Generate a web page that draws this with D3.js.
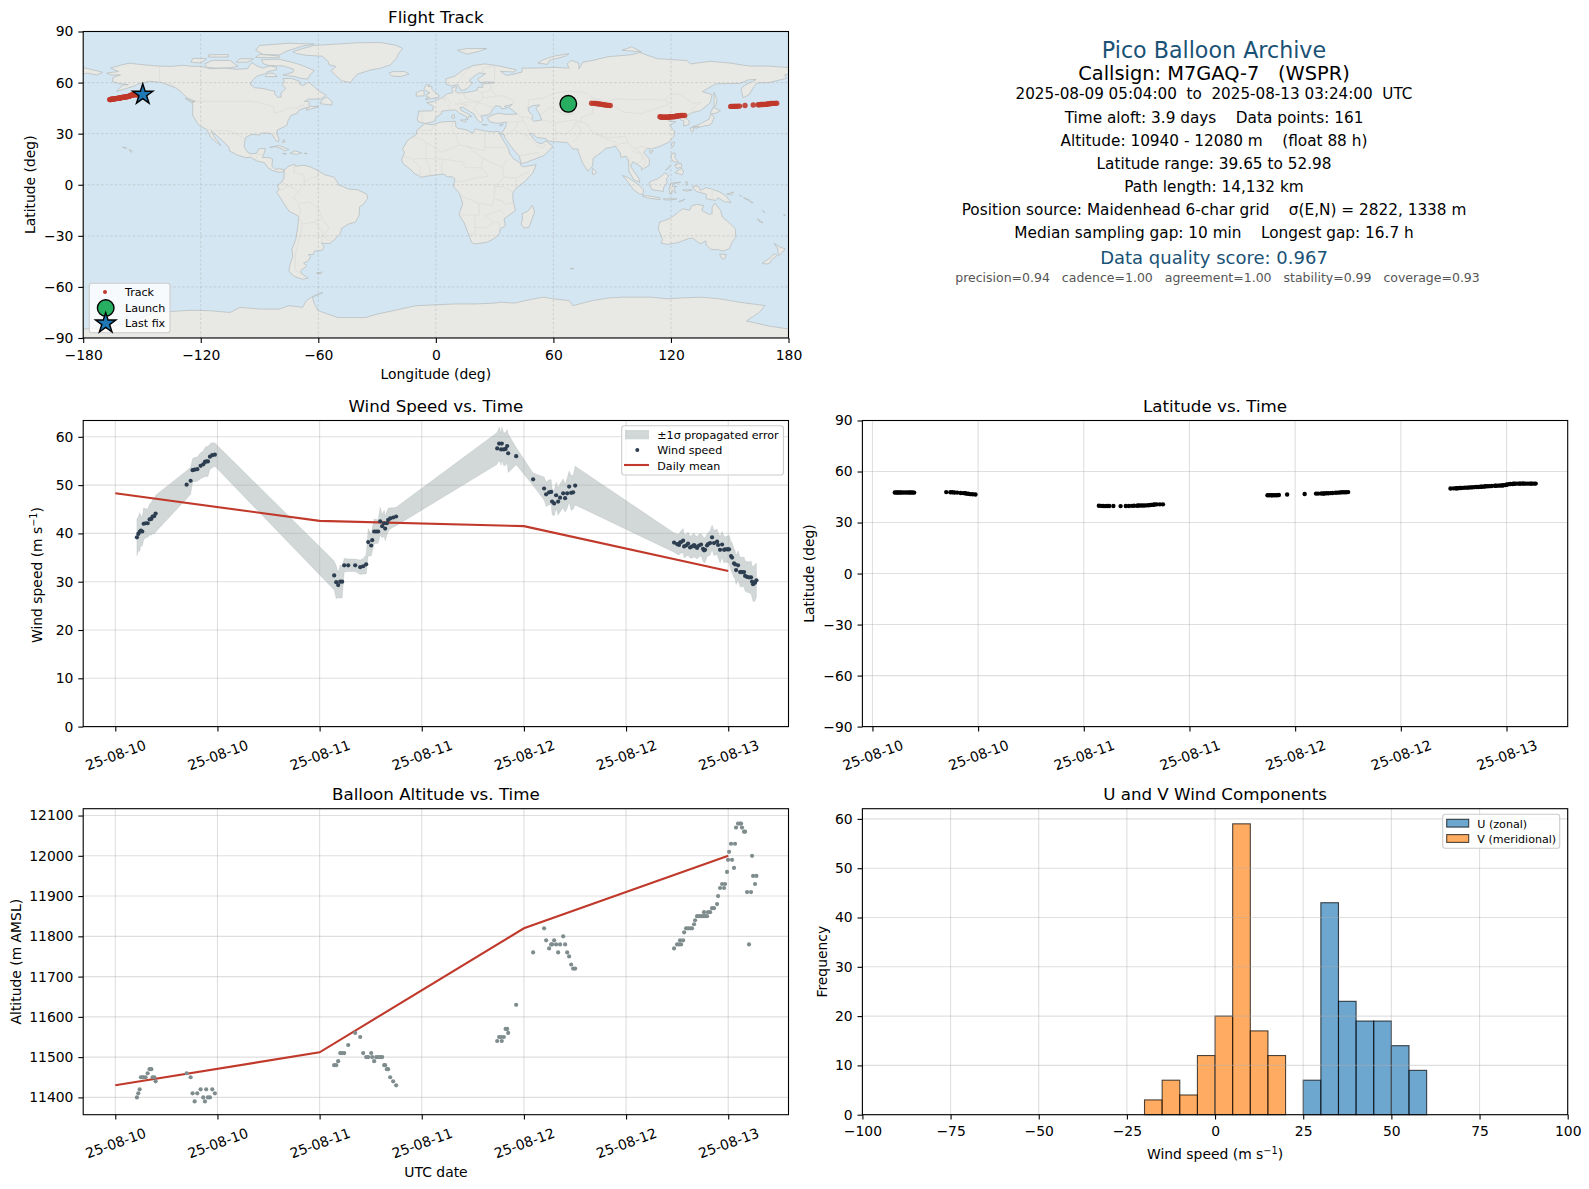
<!DOCTYPE html>
<html>
<head>
<meta charset="utf-8">
<script src="https://cdnjs.cloudflare.com/ajax/libs/d3/7.8.5/d3.min.js"></script>
<style>
  html, body { margin: 0; padding: 0; background: #fff; }
  svg text { font-family: "DejaVu Sans", sans-serif; white-space: pre; }
</style>
</head>
<body>
<div id="chart"></div>
<script>
// ---------- flight data (hours counted from 25-08-10 00:00 UTC) ----------
const hours = [
  2.54,2.70,2.86,3.01,3.17,3.33,3.56,3.80,4.03,4.23,4.38,4.58,4.74,
  8.38,8.85,9.08,9.32,9.63,10.02,10.33,10.53,10.68,10.88,11.12,11.39,11.70,
  25.71,25.95,26.18,26.42,26.65,26.89,27.36,28.18,28.77,29.12,29.47,29.71,30.06,30.18,30.41,30.65,30.88,31.12,31.35,31.59,31.70,31.90,32.05,32.29,32.64,32.99,
  44.86,45.09,45.32,45.40,45.64,45.85,46.03,46.15,47.09,
  49.08,
  50.37,50.61,50.96,51.20,51.31,51.55,51.78,52.02,52.25,52.61,52.84,53.08,53.31,53.55,53.78,54.02,
  65.64,65.99,66.22,66.34,66.46,66.70,66.82,67.05,67.28,67.52,
  67.75,67.99,68.11,68.34,68.57,68.81,69.04,69.16,69.28,69.51,
  69.63,69.87,70.10,70.33,70.69,70.81,71.04,71.28,71.51,71.63,
  71.86,71.98,72.10,72.33,72.45,72.68,72.80,72.92,73.15,73.39,
  73.51,73.62,73.86,73.98,74.21,74.44,74.68,74.80,74.92,75.15,75.31
]
const windSpeed = [
  39.2,39.9,40.3,40.6,40.4,42.0,42.1,42.1,42.9,43.0,43.5,43.6,44.1,
  50.1,50.9,53.1,53.2,53.3,54.0,54.3,54.8,54.9,54.9,55.9,56.2,56.3,
  31.3,29.9,29.3,30.0,30.0,33.4,33.4,33.4,33.0,33.2,33.6,38.2,37.5,38.6,40.4,40.4,40.4,42.5,41.5,42.1,41.0,42.1,42.8,43.1,43.3,43.5,
  57.6,58.6,57.4,58.6,57.4,57.5,58.1,56.6,56.0,
  51.2,
  49.3,48.1,48.5,48.6,46.6,46.2,47.9,46.6,47.4,48.3,47.3,48.3,49.7,48.4,48.5,49.9,
  38.1,37.8,37.6,38.1,38.2,38.5,37.3,37.5,37.9,37.1,
  37.3,37.6,37.3,37.0,37.5,37.7,36.8,36.5,36.6,37.5,
  37.8,38.0,39.2,38.0,38.3,37.6,36.6,37.7,36.6,36.7,
  36.7,36.7,36.7,35.3,35.0,33.8,33.6,32.4,33.4,32.0,
  32.0,32.0,32.0,31.2,31.0,30.9,30.9,30.0,29.5,29.8,30.3
]
const windSigma = [
  3.8,3.5,4.0,3.1,3.0,3.3,3.0,2.9,3.2,3.4,3.5,3.7,3.8,
  2.9,2.8,2.4,2.5,2.5,2.7,2.7,3.0,3.1,3.1,2.6,2.6,2.4,
  3.0,3.4,2.6,3.4,3.3,1.4,1.3,1.3,1.5,1.6,2.0,2.8,2.2,2.4,2.6,2.5,2.4,2.9,2.4,2.7,2.5,2.5,2.4,2.2,2.0,1.9,
  3.3,3.4,3.3,3.4,3.4,3.4,3.4,4.0,1.8,
  1.3,
  2.4,2.5,2.6,2.5,2.7,2.6,2.7,2.8,2.9,3.0,2.9,3.1,3.2,3.6,3.5,4.0,
  2.0,2.1,2.1,2.2,2.3,2.5,2.4,2.3,2.4,2.2,
  2.4,2.5,2.3,2.3,2.4,2.3,2.5,2.6,2.5,2.4,
  2.4,2.5,2.5,2.6,2.6,2.6,2.7,2.7,2.7,2.6,
  2.7,2.8,2.9,3.0,3.1,3.0,2.9,3.0,3.0,3.0,
  3.1,3.0,3.1,3.1,3.2,3.2,3.4,3.3,3.6,3.8,3.5
]
const latitude = [
  47.7,47.7,47.7,47.7,47.7,47.7,47.7,47.7,47.7,47.7,47.7,47.7,47.6,
  47.9,47.8,47.8,47.7,47.6,47.4,47.3,47.2,47.0,46.9,46.7,46.6,46.5,
  39.9,39.8,39.7,39.65,39.7,39.7,39.7,39.65,39.7,39.7,39.8,39.9,39.9,40.0,40.0,40.0,40.0,40.1,40.2,40.3,40.4,40.5,40.6,40.7,40.7,40.7,
  46.0,46.0,46.0,46.0,46.0,46.0,46.1,46.2,46.5,
  46.8,
  47.0,47.0,47.1,47.1,47.1,47.2,47.2,47.3,47.4,47.5,47.6,47.7,47.8,47.8,47.8,47.9,
  50.0,50.1,50.1,50.2,50.2,50.3,50.3,50.4,50.5,50.5,
  50.6,50.7,50.7,50.8,50.9,50.9,51.0,51.1,51.1,51.2,
  51.3,51.3,51.4,51.5,51.6,51.6,51.7,51.8,51.8,51.9,
  52.0,52.2,52.4,52.6,52.7,52.7,52.8,52.8,52.9,52.9,
  52.9,52.9,52.98,52.9,52.9,52.9,52.9,52.9,52.9,52.9,52.9
]
const longitude = [
  67.6,67.9,68.1,68.4,68.6,68.8,69.0,69.2,69.5,69.7,69.9,70.2,70.5,
  79.5,80.6,81.2,81.9,82.6,83.4,84.2,85.0,85.7,86.5,87.3,88.2,89.0,
  114.4,114.9,115.4,115.9,116.4,116.9,117.3,117.8,118.2,118.7,119.2,119.6,120.0,120.3,120.8,121.2,121.6,122.1,122.5,123.0,123.5,124.0,124.6,125.2,126.0,127.0,
  150.5,151.2,151.9,152.4,152.7,153.0,154.0,155.0,157.8,
  162.0,
  164.5,165.1,165.7,166.3,166.9,167.5,168.1,168.7,169.3,169.9,170.5,171.1,171.7,172.4,173.2,174.0,
  -166.5,-166.1,-165.8,-165.6,-165.4,-165.0,-164.8,-164.4,-164.0,-163.6,
  -163.2,-162.8,-162.6,-162.2,-161.8,-161.5,-161.1,-160.9,-160.7,-160.3,
  -160.1,-159.7,-159.3,-158.9,-158.4,-158.2,-157.8,-157.4,-157.0,-156.8,
  -156.4,-156.2,-155.9,-155.5,-155.3,-154.9,-154.7,-154.4,-154.0,-153.6,
  -153.4,-153.1,-152.7,-152.5,-152.1,-151.7,-151.2,-151.0,-150.7,-150.1,-149.6
]
const altitude = [
  11400,11410,11420,11450,11450,11450,11450,11460,11470,11470,11450,11450,11440,
  11460,11450,11410,11390,11410,11420,11400,11390,11420,11400,11400,11420,11410,
  11480,11480,11490,11510,11510,11510,11530,11560,11550,11510,11500,11500,11510,11500,11490,11500,11500,11500,11500,11480,11480,11470,11470,11450,11440,11430,
  11540,11550,11550,11540,11550,11570,11570,11560,11630,
  11760,
  11820,11790,11770,11780,11780,11790,11780,11760,11780,11800,11780,11760,11750,11730,11720,11720,
  11770,11780,11780,11790,11780,11790,11810,11820,11820,11820,
  11820,11830,11840,11850,11850,11850,11850,11860,11850,11850,
  11860,11860,11870,11870,11880,11900,11920,11930,11920,11930,
  11960,11990,12010,12030,11990,11970,12030,12070,12080,12080,
  12080,12070,12060,12060,11910,11780,11910,12000,11950,11930,11950
]
// daily means
const meanHours = [0, 24, 48, 72]
const meanWind = [48.3, 42.6, 41.5, 32.2]
const meanAlt = [11430, 11512, 11820, 12000]
// launch and last fix [lon, lat]
const launchFix = [67.6, 47.5]
const lastFix = [-149.6, 53]
// histograms
const binStartV = [-20, -15, -10, -5, 0, 5, 10, 15]
const countsV = [3, 7, 4, 12, 20, 59, 17, 12]
const binStartU = [25, 30, 35, 40, 45, 50, 55]
const countsU = [7, 43, 23, 19, 19, 14, 9]
const binWidth = 5
// ticks
const timeTicks = ['2025-08-10T00:00Z','2025-08-10T12:00Z','2025-08-11T00:00Z','2025-08-11T12:00Z','2025-08-12T00:00Z','2025-08-12T12:00Z','2025-08-13T00:00Z']
const lonTicks = [-180, -120, -60, 0, 60, 120, 180]
const latTicks = [-90, -60, -30, 0, 30, 60, 90]
const windTicks = [0, 10, 20, 30, 40, 50, 60]
const altTicks = [11400, 11500, 11600, 11700, 11800, 11900, 12000, 12100]
const histXTicks = [-100, -75, -50, -25, 0, 25, 50, 75, 100]
const histYTicks = [0, 10, 20, 30, 40, 50, 60]
// text block
const infoLines = [
  'Pico Balloon Archive',
  'Callsign: M7GAQ-7   (WSPR)',
  '2025-08-09 05:04:00  to  2025-08-13 03:24:00  UTC',
  'Time aloft: 3.9 days    Data points: 161',
  'Altitude: 10940 - 12080 m    (float 88 h)',
  'Latitude range: 39.65 to 52.98',
  'Path length: 14,132 km',
  'Position source: Maidenhead 6-char grid    σ(E,N) = 2822, 1338 m',
  'Median sampling gap: 10 min    Longest gap: 16.7 h',
  'Data quality score: 0.967',
  'precision=0.94   cadence=1.00   agreement=1.00   stability=0.99   coverage=0.93'
]

// ---------- coastlines [lon, lat], traced by eye ----------
const landRings = [
  // North America
  [[-156.6,71.4],[-152,70.8],[-145,70],[-141,69.7],[-135,69.5],[-129,70.2],[-125,69.6],[-120,69.5],[-115,68.2],[-108,68.6],[-102,67.8],[-96,68.2],[-94,71.8],[-91,69.5],[-88,68.5],[-85,69.8],[-81.3,69.1],[-81.3,67.6],[-86,66.4],[-87,65.2],[-91,64],[-93,62],[-94.5,60],[-94.7,58.9],[-92.5,57],[-88,56.5],[-84,55.3],[-82.3,55.1],[-82.2,53],[-80.5,51.3],[-79,51.5],[-79,54],[-76.6,56.5],[-78.5,58.8],[-77.3,60],[-78,62.4],[-73.8,62.4],[-70,61],[-69.5,59],[-67.5,58.3],[-65,60.3],[-62,57.5],[-60,55.3],[-56,52.5],[-59,50.3],[-65,50.3],[-67,49],[-65,49],[-64.5,48],[-65,47],[-64.5,46.2],[-61.5,45.9],[-60,46.5],[-60,45.8],[-63.5,44.6],[-66,43.6],[-66,44.8],[-64.5,45.5],[-67,45],[-70,43.7],[-70.7,42],[-74,40.6],[-75.5,37.5],[-76,35],[-78,33.8],[-81,32],[-81.3,30],[-80,26.8],[-80.4,25.2],[-81.7,26],[-82.7,28],[-84,30],[-86,30.4],[-89,30.3],[-90,29.2],[-94,29.6],[-97.2,27.7],[-97.7,24],[-97.8,22.3],[-96,19],[-94.5,18.2],[-91.5,18.5],[-90.5,21],[-87,21.4],[-87.7,18.3],[-88.5,16],[-85,15.9],[-83.3,15],[-83.7,11],[-82,9],[-79.7,9.5],[-77.4,8.7],[-78,7.5],[-80.3,7.4],[-83,8.2],[-85.7,10],[-87.5,13],[-91.5,14],[-94.5,16.2],[-97,15.9],[-101.5,17.5],[-105.5,20],[-105.5,22],[-109,26],[-112.5,29.5],[-114.7,31.7],[-112.7,27.5],[-109.7,23],[-112,24.8],[-115,28],[-117,32.5],[-120.5,34.5],[-122.5,37.5],[-124.2,41],[-124,46],[-124.5,48.4],[-122.8,49],[-127,51],[-130,54.5],[-133,57],[-137,58.7],[-140,60],[-146,60.8],[-149,60],[-152,59.2],[-154,58],[-158,56.5],[-163,54.8],[-160,58.5],[-157,58.8],[-162,59.5],[-165,60.5],[-164.8,63],[-161,64.5],[-166,64.5],[-168,65.6],[-162,66.5],[-166,68.5],[-160,70.5]],
  // South America
  [[-77.4,8.7],[-75,11],[-72,12],[-71.5,10.8],[-68,11.5],[-64,10.5],[-60.5,8.5],[-57,6],[-52,4.5],[-50,1],[-50,0],[-48,-0.8],[-44.5,-2.5],[-40,-2.9],[-35.2,-5.5],[-34.8,-8],[-37,-11.5],[-39,-13],[-39,-17.5],[-41,-22],[-44.5,-23],[-48,-25.5],[-48.7,-28.5],[-52,-32.5],[-54,-34.5],[-57,-34.5],[-58.4,-34],[-57,-36.5],[-58,-38.5],[-62,-39],[-62.5,-41],[-65,-41],[-64,-42.5],[-65.5,-45],[-67.5,-46],[-65.8,-47.5],[-69,-50.5],[-68.3,-52.5],[-65.2,-54.8],[-68,-55.5],[-72,-54],[-75,-51],[-74.5,-47],[-73,-42],[-73.5,-38],[-71.5,-32],[-70.5,-25],[-70,-18.5],[-75,-15.5],[-77,-12],[-79.7,-7],[-81.3,-4.5],[-80,-2.5],[-81,-0.5],[-78.7,1.5],[-77.5,4],[-77.4,7]],
  // Greenland
  [[-73,78.2],[-68,80],[-62,81.8],[-52,82.5],[-40,83.4],[-28,83.5],[-20,81.8],[-17,80],[-19,77],[-20,74.5],[-22,72],[-23,70.5],[-28,68.5],[-33,67.5],[-40,65],[-42,62.5],[-43.5,60],[-48,61],[-51,64],[-53.5,67],[-51,69.5],[-54.5,70.5],[-55,72.5],[-58,75.5],[-66,76],[-71,77]],
  // Canadian Arctic
  [[-80,73.7],[-72,71.5],[-68,70],[-62,67],[-64,65],[-65.5,62],[-69,62.5],[-72,63.5],[-78,64.5],[-73,66],[-72.5,67.8],[-78,69.8],[-85,70],[-88,71],[-89,73.5]],
  [[-117,69],[-113,68.5],[-105,68.7],[-101,69.5],[-105,73],[-114,73],[-118,71]],
  [[-125,72],[-120,71.5],[-117,74],[-124,74.3]],
  [[-88,76.5],[-80,76.2],[-76,78.5],[-68,81.5],[-62,82.6],[-75,83.1],[-90,81.8],[-92,79]],
  [[-92,74.8],[-80,74.6],[-80,75.6],[-90,76.6]],
  [[-116,75],[-106,75],[-106,76.5],[-116,76.3]],
  [[-102,72],[-96,72],[-93,74],[-100,74]],
  [[-87,63.5],[-81,63.5],[-83,65.5],[-86,65.5]],
  [[-59,47.6],[-53,46.8],[-53,49],[-55.7,51.5],[-58,50]],
  [[-128,50.8],[-123.5,48.4],[-125.5,48.8]],
  // Caribbean, Pacific and Atlantic islands
  [[-84.8,21.9],[-80,23],[-75,20.7],[-77.5,19.9],[-78.5,21],[-82,22.5]],
  [[-74.4,18.5],[-72,20],[-68.5,18.7],[-71,17.8]],
  [[-78.3,18.4],[-76.3,18.2],[-77,17.8]],
  [[-67.2,18.5],[-65.7,18.4],[-66,18]],
  [[-78.5,25],[-77.5,26.7],[-77,25]],
  [[-156.5,20.8],[-155,19.8],[-155.7,19]],
  [[-160,22.1],[-157.8,21.6],[-158.2,21.3]],
  [[-61,-51.8],[-58,-51.3],[-59,-52.3]],
  [[-24,65.5],[-22,66.4],[-16,66.5],[-13.7,65],[-18,63.5],[-22.5,63.9]],
  // Eurasia
  [[-5.6,36],[-9,37],[-9.5,38.8],[-8.8,42],[-9,43.2],[-1.8,43.4],[-1.2,46],[-4.7,48.3],[-1.5,48.7],[1.5,50.2],[3.5,51.4],[6,53.5],[8.5,54],[8.2,57],[10.6,57.7],[10,55],[11,54],[14,54],[18.5,54.7],[21,55.5],[21.5,57.3],[24,57.2],[23.5,59.2],[28,59.6],[30,60],[26,60.4],[22.5,60],[21.3,62],[25.3,65.2],[22,65.7],[17.5,62],[17.2,60.7],[18.8,59.8],[16.5,57],[14.3,55.5],[12.8,55.5],[11,58.9],[8,58],[5.5,59],[5,62],[10,64],[14,67.5],[19,70],[25,71],[31,70],[41,67.5],[40,66.2],[35,66.5],[33,66.6],[36,64.2],[40,65],[44,66.2],[44,68.5],[54,68.6],[60,69],[68,68.5],[67,71],[69,73],[73,71.5],[73,68],[75,72],[80,73],[88,75.2],[100,76.4],[104,77.7],[113,74],[128,73],[130,71],[140,72.5],[150,71.5],[160,69.7],[170,69.7],[180,68.8],[180,65],[178,64.5],[179,62.5],[170,60],[164,59.8],[162,57],[160,53],[156.8,51],[155.8,56],[157,58],[163.5,61.8],[160,61.7],[155,59.5],[143,59.3],[136,54.7],[141,53],[140,48],[135,43.5],[130.7,42.3],[127.5,39.8],[129.4,37],[129,35.2],[126.5,34.5],[126.6,37.5],[125,38],[124.5,40],[121.5,39],[122,40.5],[118,39],[119,37.3],[122.5,37],[119.3,35],[122,31],[121.5,28.5],[119,25],[114,22.4],[110,21],[108,21.5],[106,19],[109,15],[109,11.5],[105,8.7],[105,10.3],[102.5,12.2],[100.5,13.5],[99.5,10.5],[103.5,4],[104.2,1.4],[101,3],[98.5,8],[98.3,14],[97,16.7],[94.5,16],[94,19],[91.5,22.7],[89,21.8],[87,21.5],[85,19.5],[80.3,15.5],[80,11],[77.5,8],[74.8,13],[72.8,19],[72.5,21],[70,21],[67,24.8],[61.5,25.2],[57,25.7],[56.4,27],[51.5,27.8],[49,30.3],[48,30],[50,26.7],[51.5,25],[54,24],[56.3,25.8],[59.8,22.4],[55,17],[52,15.7],[45,12.7],[43.4,12.7],[42.7,16.5],[39,21.5],[35,28],[34.9,29.5],[32.6,29.9],[34.3,31.3],[35.8,34.5],[36,36.8],[32,36.1],[30,36.3],[27.3,37],[26.3,39.5],[29,41],[32,42],[36,41.3],[41.5,41.5],[39,44],[37,45.4],[39,47.2],[35,46],[36.5,45.2],[33.5,44.5],[33,46],[30.5,46.4],[28.5,43.5],[28,42],[26.2,40.8],[23,40.3],[24,38],[22.8,36.5],[21,38.3],[19.5,41.5],[13.8,45.5],[12.3,45.3],[13,43.5],[16,41.9],[18.5,40],[16.8,40.3],[16,38],[15.7,40],[12,42],[10.2,43.9],[7.5,43.8],[3,43.2],[3,41.8],[0,39.5],[-0.7,37.7],[-2,36.8]],
  [[-180,68.8],[-175,67.5],[-170,66],[-173,64.5],[-178,65.5],[-180,65]],
  // Africa
  [[-5.6,35.9],[-2,35.2],[3,36.9],[10,37.3],[10.2,34.3],[11,33.2],[15.3,32.3],[19,30.3],[20,32.8],[25,31.6],[29,31],[32.3,31.3],[32.6,29.9],[34,27],[35.6,24],[37.2,21],[37.5,18.6],[39.5,15.4],[43.2,12.5],[43.2,11.5],[44.5,10.5],[51.2,11.8],[49.5,7],[45.5,2],[41,-2],[39.2,-5],[39.5,-10],[40.7,-15],[36.5,-18.7],[34.8,-20],[35.5,-24],[32.8,-26],[32.5,-28.5],[30,-31.5],[26,-33.8],[20,-34.8],[18.3,-34],[16.5,-28.5],[14.5,-22.5],[11.8,-17.5],[13.7,-11],[12,-5],[9,-1],[9.7,3.5],[8.5,4.6],[5.5,4.7],[4.5,6.3],[1,5.9],[-4,5.2],[-7.5,4.4],[-11,6.7],[-13.5,9.5],[-16.7,12.4],[-17.5,14.7],[-16,19],[-17,21],[-14.5,26],[-10,29.5],[-9.7,32],[-6,35.5]],
  [[49.3,-12],[50.4,-16],[47.5,-25],[45,-25.5],[43.5,-23],[44.3,-20],[44,-17],[47,-15.5]],
  // European islands
  [[-5.5,50],[1.3,51.2],[1.7,52.7],[-0.3,54],[-2,56],[-2,57.6],[-4,57.7],[-3,58.6],[-5,58.6],[-6,56.5],[-4.9,55],[-3,54],[-4.5,53.3],[-5,51.7],[-3.2,51.3]],
  [[-6,52.2],[-6,54],[-6,55.2],[-8,55.2],[-10,54],[-10,52]],
  [[14,77.5],[11,79],[16,80],[26,80],[21,78],[16,76.7]],
  [[52,71.5],[55,73.5],[60,75.5],[68,77],[66,75.5],[58,73],[57,70.7]],
  [[95,79],[105,78],[100,81]],
  [[8.3,39],[9.7,39.2],[9.3,41.2],[8.2,40.8]],
  [[12.5,38],[15.5,38.2],[15,36.7]],
  [[23.5,35.4],[26.3,35.2],[24.7,34.9]],
  [[32.4,35],[34.5,35.6],[33.7,34.7]],
  // East and South-East Asia
  [[142,54.3],[143.5,50],[143,46.5],[142,46],[142,50]],
  [[130.9,34],[135,35.7],[137,37],[139.5,38.5],[140,40.5],[141,41.4],[142,39.5],[140.8,36],[139.5,35],[136.8,34.5],[135,33.8],[132,34]],
  [[140,41.5],[141.5,45.5],[145.3,43.5],[143,42]],
  [[130,33.5],[132,33.5],[131,31],[130,32]],
  [[132.5,34],[134.5,34.2],[133,33]],
  [[121,25],[122,25],[120.9,22],[120.1,23.3]],
  [[109,20],[111,19.7],[109.5,18.2]],
  [[120.5,18.5],[122.2,18.5],[122,16],[124,13],[121,13.8],[120,16]],
  [[122,7],[125.5,9.8],[126.5,7.5],[125.5,5.7],[124,6.5]],
  [[122,11.8],[125.3,12.5],[125.5,10.5],[123,9.5]],
  [[117.2,8.4],[119.5,11.3],[119.3,10.3]],
  [[109,1.5],[111.5,2.8],[113,3.2],[115.5,5.5],[117,7],[119,5.2],[117.7,3.5],[118,1],[116.5,-1],[116,-4],[114,-3.5],[110.5,-3],[109,0]],
  [[95.3,5.5],[98,4.3],[103.5,0],[106,-3],[105.8,-5.8],[104,-5.5],[101,-3],[98.5,1]],
  [[105.5,-6.5],[108.5,-6.5],[114.5,-7.7],[114.5,-8.7],[108,-7.8],[105.5,-6.8]],
  [[119.5,-5.5],[119,-2.5],[120,1],[125,1.5],[121,0.5],[120.5,-1],[123,-1],[121.5,-2],[122.5,-5],[120.5,-3],[120.4,-5.5]],
  [[116,-8.3],[119,-8.3],[123,-8.3],[120,-8.9],[117,-9]],
  [[124,-10],[127,-8.5],[125,-9.8]],
  [[127.5,2],[128.5,1.5],[128,-0.5]],
  [[126,-3],[130.8,-3],[128,-3.8]],
  [[80,9.7],[82,7.5],[81,6],[80,6.2],[79.8,8]],
  // Oceania
  [[131,-0.8],[134,-0.8],[135,-3.3],[138,-1.7],[141,-2.6],[145,-4.3],[148,-6.5],[150.7,-10.5],[147,-9.8],[144,-7.7],[143,-9.2],[138,-8.3],[138,-5.5],[133,-4],[132,-2.8]],
  [[148.5,-5.5],[152,-4.3],[151,-6]],
  [[155,-6],[156,-6.9],[155.5,-6.5]],
  [[157,-7.5],[160,-9],[159,-8.9]],
  [[160,-9.5],[162,-10.5],[161,-10.5]],
  [[166.7,-15],[167.5,-16],[168,-16.5]],
  [[164,-20],[167,-22.3],[165.5,-22]],
  [[177.5,-17.5],[178.5,-17.8],[178,-18.3]],
  [[114.2,-22],[113.5,-26],[115.7,-32],[115,-34.3],[118,-35],[123.5,-34],[129,-31.6],[131.2,-31.5],[135,-34.7],[137.8,-33],[138,-35.5],[140.5,-38],[144.5,-38.2],[146.5,-39],[150,-37.5],[151,-34],[153,-31],[153,-26],[149,-21.5],[146.3,-19],[145.3,-15],[142.5,-10.8],[141,-13],[141,-17],[139.2,-17.3],[135.7,-15],[136.8,-12.2],[133,-11.5],[130.5,-12.5],[129.5,-15],[126,-14],[122.3,-17.5],[119,-20]],
  [[144.8,-40.7],[148.2,-41],[147.5,-43.5],[146,-43.5]],
  [[172.7,-34.5],[175.5,-36.5],[178.3,-37.7],[177,-39.5],[175,-41.5],[174.5,-39.5],[174.7,-38],[173,-35]],
  [[172.7,-40.5],[174.2,-41.5],[171.5,-44],[170.5,-46],[168.5,-46.6],[166.5,-46],[170.5,-43]],
  [[68.7,-49.2],[70.5,-49],[69.5,-49.8]],
  // Antarctica
  [[-180,-84.7],[-170,-84],[-160,-82],[-150,-78],[-145,-75.5],[-135,-74.4],[-125,-73.7],[-115,-74],[-105,-75],[-100,-72],[-90,-73],[-80,-73],[-75,-71],[-68,-72],[-66,-68],[-62,-65],[-57.7,-63.3],[-60,-64.5],[-63,-66],[-62,-70],[-60,-74],[-50,-78],[-45,-78],[-36,-78],[-30,-76],[-20,-73.5],[-10,-71],[0,-70.5],[10,-70],[20,-70],[30,-69.5],[33,-69],[40,-69.5],[50,-67],[55,-66],[60,-67],[68,-68],[70,-71],[75,-69.5],[80,-68],[88,-66.5],[95,-66],[100,-66],[110,-66],[118,-67],[125,-66.5],[135,-66],[145,-67],[155,-69],[165,-70.5],[168,-71],[165,-75],[158.6,-80],[170,-83],[180,-84.7],[180,-90],[-180,-90]]
]
// inland seas painted in the ocean colour
const waterRings = [
  [[47,45],[49.5,46.5],[53,46.8],[51,44.8],[53,41.5],[54,38],[50,37.3],[49,38.5],[49.5,40.5],[47.5,43]]
]
// a few land borders, very faint on the map
const borderLines = [
  [[-123,49],[-95,49],[-89,48],[-83,46],[-82.5,42],[-79,43],[-75,45],[-71,45],[-67.5,47],[-67,45]],
  [[-141,69.7],[-141,60.3],[-135,59],[-130,55]],
  [[-117,32.5],[-108,31.5],[-106,31.7],[-101,29.5],[-97.2,26]],
  [[-92,14.5],[-91,17.8],[-89,17.8],[-88.5,16]],
  [[-72,12],[-72.5,7.5],[-67.5,6],[-67,1.5],[-70,-4],[-73,-7],[-70,-11],[-69,-16],[-69.5,-18]],
  [[-60.5,8.5],[-60,5],[-64,4],[-67,1.5]],
  [[-75,-0.5],[-78.7,1.5]],[[-75,-0.5],[-70,-4]],[[-80,-3.5],[-75,-0.5]],
  [[-70.5,-18.5],[-68,-23],[-70,-33],[-71.5,-40],[-72,-50],[-69,-52]],
  [[-69,-11],[-65,-10],[-60,-13.5],[-58,-20],[-62,-22],[-68,-23]],
  [[-58,-20],[-54.5,-25.5],[-57.5,-30],[-53.5,-33.5]],[[-62,-22],[-58,-27],[-58,-33]],
  [[-9,32],[-2,32],[-1,35]],[[-8.5,27.5],[-13,27.7]],[[-8.5,27.5],[3,19],[12,23.5],[10,30],[8,33],[8.5,37]],
  [[12,23.5],[25,20],[25,31.6]],[[25,22],[37,22]],[[16,23],[24,15.5],[23,10],[15,10],[13.5,13.5],[4,15],[3,11.5],[3,6.5]],
  [[-16.5,16.5],[-12,15],[-5,15.5],[4,15]],[[-5,25],[-5,15.5],[-3,10],[-3,5]],[[-12,15],[-8,10],[-8,4.5]],
  [[24,15.5],[34,10],[36,14.5]],[[34,10],[35,4.5],[41,4],[48,8]],[[35,4.5],[30,-1],[30,-5],[29,-12],[22,-11],[12,-6]],
  [[23,10],[27,5],[18,3.5],[14,2],[10,2]],[[41,4],[41,-2]],[[30,-1],[34,-1],[40,-4.5]],[[30,-8.5],[34,-9.5],[35,-11.5],[40,-10.5]],
  [[22,-11],[22,-18],[12,-17.5]],[[25,-18],[33,-15],[35,-17]],[[20,-18],[20,-29],[16.5,-28.5]],[[25,-18],[29.5,-22.3],[25,-25.5],[20,-25]],[[29.5,-22.3],[32,-22],[33,-26]],
  [[5.5,49.5],[2,51],[6,51],[7,49],[7.5,47.6],[6,46],[7.5,43.8]],[[-1.8,43.4],[3,42.4]],[[-9,42],[-7,41.8],[-7,37.2]],
  [[8.8,54.8],[14.2,54],[14.8,51],[18.8,49.5],[22.5,49],[24,51],[23.5,54],[21,55.5]],[[12,50.3],[13,48],[17,48.5],[22.5,48.2]],[[9.5,47.5],[13,47.5],[16.5,46.8],[13.8,45.5]],[[22.5,48.2],[29,45.3]],[[22.5,48.2],[19,45],[22.5,41],[26.2,41.5],[28,42]],
  [[24,51],[31,52],[34,52.3],[40,49.6],[39,47.2]],[[23.5,54],[28,56],[28,59.6]],[[31,52],[28,56]],[[29,41.5],[26.2,41.5]],
  [[18,69],[14,65],[12,61],[11,59]],[[24,68.5],[30,70]],[[24,68.5],[24,66]],[[30,70],[30,62],[28,60]],
  [[36,36.8],[42,37],[44.7,37.3],[44,39.5],[41.5,41.5]],[[42,37],[41,34],[39,32],[36.5,29.5]],[[48,30],[46,29],[40,32]],[[46,29],[52,22.5],[55,22],[56,24]],[[43,17],[52,19],[53,16.5]],
  [[44.7,37.3],[46,35],[48,30]],[[49,38.5],[47,39.5],[44,40]],[[61,36.5],[61,31],[61.5,25.2]],[[54,38],[61,36.5],[66,37.3],[71,38],[74.5,37]],[[61,31],[66,29.5],[70,33],[71,36],[74.5,37]],
  [[47,45],[47.5,50],[55,51],[61,54],[69,55],[77,54],[80,51],[87,49]],[[87,49],[92,50.5],[98,50],[107,50],[117,49.8],[120,53.3],[125,53],[131,48],[135,48.3],[131,45],[131,42.5]],
  [[87,49],[91,46],[96,42.7],[105,41.7],[112,44.7],[119,47],[117,49.8]],[[80,45],[80,42],[74,39.5],[74.5,37]],[[54,41.5],[58,45.5],[62,43.5],[66,41],[71,42]],[[80,45],[84,47],[87,49]],
  [[74.5,37],[78,35],[79,32],[81,30],[88,27.8],[92,28],[97,28.5],[98,25],[100,22],[102,21.5],[105,22.5],[108,21.5]],[[71,36],[74,33],[74,30],[70,25]],[[81,30],[88,26.5],[92,25],[92,22]],[[98,25],[94,24],[92,22]],
  [[97,17],[99,15],[99.5,10.5]],[[100,20],[105,18],[105.5,14.5],[102.5,12.2]],[[102,21.5],[105,18],[107,14.5],[106,10.5]],
  [[124.5,40],[128,41.5],[130.7,42.3]],[[126,38],[128.5,38.5]],
  [[141,-2.6],[141,-9.2]]
]

// ---------- layout ----------
const width = 1589, height = 1189
const FONT_TICK = 13.9, FONT_LABEL = 13.9, FONT_TITLE = 16.7, FONT_LEGEND = 11.1
const leftCol = [83.2, 788.5], rightCol = [862.4, 1567.7]
const row1 = [31.5, 338], row2 = [420.5, 726.6], row3 = [808.7, 1114.7]

const svg = d3.select('#chart').append('svg')
  .attr('width', width).attr('height', height)
  .style('display', 'block')

const t0 = Date.UTC(2025, 7, 10)
const toDate = h => new Date(t0 + h * 3600000)
const ids = d3.range(hours.length)

// shared grid + frame helpers
function drawGrid(g, xs, ys, x, y, xr, yr, dash) {
  const grid = g.append('g')
    .attr('stroke', dash ? '#999' : '#b0b0b0')
    .attr('stroke-opacity', dash ? 0.45 : 0.4)
    .attr('stroke-width', dash ? 0.7 : 1.1)
    .attr('stroke-dasharray', dash ? '2.5,2' : null)
  grid.selectAll('.gx').data(xs).join('line')
    .attr('x1', d => x(d)).attr('x2', d => x(d)).attr('y1', yr[0]).attr('y2', yr[1])
  grid.selectAll('.gy').data(ys).join('line')
    .attr('x1', xr[0]).attr('x2', xr[1]).attr('y1', d => y(d)).attr('y2', d => y(d))
}

function drawFrame(xr, yr) {
  svg.append('rect')
    .attr('x', xr[0]).attr('y', yr[0])
    .attr('width', xr[1] - xr[0]).attr('height', yr[1] - yr[0])
    .attr('fill', 'none').attr('stroke', '#000').attr('stroke-width', 1.1)
}

function styleAxis(g) {
  g.selectAll('text').attr('font-size', FONT_TICK).attr('fill', '#000')
  g.selectAll('line').attr('stroke', '#000').attr('stroke-width', 1.1)
}

const minus = d => String(d).replace('-', '−')

function drawLeftAxis(y, xLeft, ticks) {
  svg.append('g').attr('transform', `translate(${xLeft},0)`)
    .call(d3.axisLeft(y).tickValues(ticks).tickFormat(minus).tickSize(4.9).tickPadding(4.9).tickSizeOuter(0))
    .call(g => g.select('.domain').remove())
    .call(styleAxis)
}

function drawBottomAxis(x, yBottom, ticks, fmt) {
  svg.append('g').attr('transform', `translate(0,${yBottom})`)
    .call(d3.axisBottom(x).tickValues(ticks).tickFormat(fmt).tickSize(4.9).tickPadding(7).tickSizeOuter(0))
    .call(g => g.select('.domain').remove())
    .call(styleAxis)
}

function drawTimeAxis(x, yBottom) {
  svg.append('g').attr('transform', `translate(0,${yBottom})`)
    .call(d3.axisBottom(x).tickValues(timeTicks.map(s => new Date(s))).tickFormat(d3.utcFormat('%y-%m-%d')).tickSize(4.9).tickSizeOuter(0))
    .call(g => g.select('.domain').remove())
    .call(styleAxis)
    .call(g => g.selectAll('text')
      .attr('y', 0).attr('dy', '0.35em')
      .attr('transform', 'translate(0,28.5) rotate(-20)'))
}

function title(text, xr, yTop) {
  svg.append('text').attr('x', (xr[0] + xr[1]) / 2).attr('y', yTop - 8.3)
    .attr('text-anchor', 'middle').attr('font-size', FONT_TITLE).text(text)
}

function xLabel(text, cx, y) {
  svg.append('text').attr('x', cx).attr('y', y)
    .attr('text-anchor', 'middle').attr('font-size', FONT_LABEL).text(text)
}

function yLabel(text, x, cy) {
  svg.append('text').attr('text-anchor', 'middle').attr('font-size', FONT_LABEL)
    .attr('transform', `translate(${x},${cy}) rotate(-90)`).text(text)
}

// the "m s⁻¹" of the wind labels, with a real raised exponent
function addSup(t) {
  t.append('tspan').attr('dy', -5).attr('font-size', 9.7).text('−1')
  t.append('tspan').attr('dy', 5).text(')')
}

const frame = (x, y, w, h) => svg.append('rect').attr('x', x).attr('y', y).attr('width', w).attr('height', h)
  .attr('rx', 2.5).attr('fill', '#fff').attr('fill-opacity', 0.8)
  .attr('stroke', '#ccc').attr('stroke-width', 1.1)
const legendText = (x, y, s) => svg.append('text').attr('x', x).attr('y', y).attr('dy', '0.35em')
  .attr('font-size', FONT_LEGEND).text(s)

// ---------- 1. flight track map ----------
const lonX = d3.scaleLinear().domain([-180, 180]).range(leftCol)
const latY = d3.scaleLinear().domain([-90, 90]).range([row1[1], row1[0]])
const mapLine = d3.line().x(d => lonX(d[0])).y(d => latY(d[1]))
const ringPath = r => mapLine(r) + 'Z'

svg.append('clipPath').attr('id', 'mapClip').append('rect')
  .attr('x', leftCol[0]).attr('y', row1[0])
  .attr('width', leftCol[1] - leftCol[0]).attr('height', row1[1] - row1[0])

const mapG = svg.append('g').attr('clip-path', 'url(#mapClip)')
mapG.append('rect').attr('x', leftCol[0]).attr('y', row1[0])
  .attr('width', leftCol[1] - leftCol[0]).attr('height', row1[1] - row1[0])
  .attr('fill', '#d4e6f1')
mapG.append('g').selectAll('path').data(landRings).join('path')
  .attr('d', ringPath).attr('fill', '#e8e8e4')
  .attr('stroke', '#b4babc').attr('stroke-width', 0.7).attr('stroke-linejoin', 'round')
mapG.append('g').selectAll('path').data(borderLines).join('path')
  .attr('d', mapLine).attr('fill', 'none')
  .attr('stroke', '#d9dad7').attr('stroke-width', 0.6)
mapG.append('g').selectAll('path').data(waterRings).join('path')
  .attr('d', ringPath).attr('fill', '#d4e6f1')
  .attr('stroke', '#b4babc').attr('stroke-width', 0.7)
drawGrid(mapG, lonTicks, latTicks, lonX, latY, leftCol, [row1[1], row1[0]], true)
mapG.append('g').selectAll('circle').data(ids).join('circle')
  .attr('cx', i => lonX(longitude[i])).attr('cy', i => latY(latitude[i]))
  .attr('r', 2.7).attr('fill', '#c0392b').attr('fill-opacity', 0.9)

const launchMark = (x, y, r) => svg.append('circle').attr('cx', x).attr('cy', y).attr('r', r)
  .attr('fill', '#27ae60').attr('stroke', '#000').attr('stroke-width', 1.4)
const starMark = (x, y, r) => svg.append('path')
  .attr('d', d3.symbol(d3.symbolStar, r * r / 0.8908)())
  .attr('transform', `translate(${x},${y})`)
  .attr('fill', '#1f77b4').attr('stroke', '#000').attr('stroke-width', 1.4)

launchMark(lonX(launchFix[0]), latY(launchFix[1]), 8.3)
starMark(lonX(lastFix[0]), latY(lastFix[1]), 10.7)

drawFrame(leftCol, row1)
drawLeftAxis(latY, leftCol[0], latTicks)
drawBottomAxis(lonX, row1[1], lonTicks, minus)
title('Flight Track', leftCol, row1[0])
xLabel('Longitude (deg)', (leftCol[0] + leftCol[1]) / 2, 379)
yLabel('Latitude (deg)', 35, (row1[0] + row1[1]) / 2)

frame(89.3, 283.3, 80.7, 49.4)
svg.append('circle').attr('cx', 105).attr('cy', 292).attr('r', 2).attr('fill', '#c0392b')
launchMark(105.7, 308, 8.3)
starMark(105.7, 323.3, 10.7)
legendText(125, 292, 'Track')
legendText(125, 308, 'Launch')
legendText(125, 323.3, 'Last fix')

// ---------- 2. info block ----------
const infoX = 1214
const infoY = [50.7, 73, 94, 117.5, 140.5, 163.5, 186.5, 209.5, 233, 257.5, 277.5]
const infoSize = [22.2, 19.4, 15.2, 15.3, 15.3, 15.3, 15.3, 15.3, 15.3, 18, 12.5]
const infoColor = ['#1a5276', '#000', '#000', '#000', '#000', '#000', '#000', '#000', '#000', '#1a5276', '#555']
const infoShift = [0, 0, 0, 0, 0, 0, 0, 0, 0, 0, 3.5]
infoLines.forEach((s, i) => {
  svg.append('text').attr('x', infoX + infoShift[i]).attr('y', infoY[i]).attr('dy', '0.35em')
    .attr('text-anchor', 'middle').attr('font-size', infoSize[i]).attr('fill', infoColor[i]).text(s)
})

// ---------- 3. wind speed ----------
const timeLeft = d3.scaleUtc().domain([toDate(-3.77), toDate(79.08)]).range(leftCol)
const timeRight = d3.scaleUtc().domain([toDate(-1.14), toDate(78.95)]).range(rightCol)
const timeTickDates = timeTicks.map(s => new Date(s))

const windY = d3.scaleLinear().domain([0, 63.38]).range([row2[1], row2[0]])
svg.append('path')
  .datum(ids)
  .attr('d', d3.area()
    .x(i => timeLeft(toDate(hours[i])))
    .y0(i => windY(windSpeed[i] - windSigma[i]))
    .y1(i => windY(windSpeed[i] + windSigma[i])))
  .attr('fill', '#7f8c8d').attr('fill-opacity', 0.35)
  .attr('stroke', '#7f8c8d').attr('stroke-opacity', 0.2).attr('stroke-width', 0.8)
drawGrid(svg, timeTickDates, windTicks, timeLeft, windY, leftCol, [row2[1], row2[0]])
const dailyLine = (x, y, vals) => svg.append('path')
  .attr('d', d3.line().x((h, i) => x(toDate(h))).y((h, i) => y(vals[i]))(meanHours))
  .attr('fill', 'none').attr('stroke', '#c0392b').attr('stroke-width', 2.1)
dailyLine(timeLeft, windY, meanWind)
svg.append('g').selectAll('circle').data(ids).join('circle')
  .attr('cx', i => timeLeft(toDate(hours[i]))).attr('cy', i => windY(windSpeed[i]))
  .attr('r', 2.1).attr('fill', '#2c3e50')
drawFrame(leftCol, row2)
drawLeftAxis(windY, leftCol[0], windTicks)
drawTimeAxis(timeLeft, row2[1])
title('Wind Speed vs. Time', leftCol, row2[0])
svg.append('text').attr('text-anchor', 'middle').attr('font-size', FONT_LABEL)
  .attr('transform', `translate(42,${(row2[0] + row2[1]) / 2 + 1.5}) rotate(-90)`)
  .text('Wind speed (m s').call(addSup)

frame(621.7, 425.7, 161.7, 49.3)
svg.append('rect').attr('x', 625).attr('y', 430).attr('width', 24).attr('height', 9.3)
  .attr('fill', '#7f8c8d').attr('fill-opacity', 0.35)
svg.append('circle').attr('cx', 637.3).attr('cy', 450).attr('r', 2).attr('fill', '#2c3e50')
svg.append('line').attr('x1', 624).attr('x2', 649).attr('y1', 465).attr('y2', 465)
  .attr('stroke', '#c0392b').attr('stroke-width', 2.1)
legendText(657.3, 435.3, '±1σ propagated error')
legendText(657.3, 450, 'Wind speed')
legendText(657.3, 466, 'Daily mean')

// ---------- 4. latitude ----------
const latChartY = d3.scaleLinear().domain([-90, 90]).range([row2[1], row2[0]])
drawGrid(svg, timeTickDates, latTicks, timeRight, latChartY, rightCol, [row2[1], row2[0]])
svg.append('g').selectAll('circle').data(ids).join('circle')
  .attr('cx', i => timeRight(toDate(hours[i]))).attr('cy', i => latChartY(latitude[i]))
  .attr('r', 2.2).attr('fill', '#000')
drawFrame(rightCol, row2)
drawLeftAxis(latChartY, rightCol[0], latTicks)
drawTimeAxis(timeRight, row2[1])
title('Latitude vs. Time', rightCol, row2[0])
yLabel('Latitude (deg)', 814, (row2[0] + row2[1]) / 2)

// ---------- 5. altitude ----------
const altY = d3.scaleLinear().domain([11357, 12117]).range([row3[1], row3[0]])
drawGrid(svg, timeTickDates, altTicks, timeLeft, altY, leftCol, [row3[1], row3[0]])
dailyLine(timeLeft, altY, meanAlt)
svg.append('g').selectAll('circle').data(ids).join('circle')
  .attr('cx', i => timeLeft(toDate(hours[i]))).attr('cy', i => altY(altitude[i]))
  .attr('r', 2.1).attr('fill', '#7f8c8d')
drawFrame(leftCol, row3)
drawLeftAxis(altY, leftCol[0], altTicks)
drawTimeAxis(timeLeft, row3[1])
title('Balloon Altitude vs. Time', leftCol, row3[0])
xLabel('UTC date', 436, 1177)
yLabel('Altitude (m AMSL)', 21, (row3[0] + row3[1]) / 2)

// ---------- 6. U / V histogram ----------
const histX = d3.scaleLinear().domain([-100, 100]).range(rightCol)
const histY = d3.scaleLinear().domain([0, 62.07]).range([row3[1], row3[0]])
const drawBars = (starts, counts, color) => svg.append('g').selectAll('rect').data(starts).join('rect')
  .attr('x', d => histX(d)).attr('width', d => histX(d + binWidth) - histX(d))
  .attr('y', (d, i) => histY(counts[i])).attr('height', (d, i) => histY(0) - histY(counts[i]))
  .attr('fill', color).attr('fill-opacity', 0.65)
  .attr('stroke', '#000').attr('stroke-opacity', 0.7).attr('stroke-width', 1.1)
drawBars(binStartU, countsU, '#1f77b4')
drawBars(binStartV, countsV, '#ff7f0e')
drawGrid(svg, histXTicks, histYTicks, histX, histY, rightCol, [row3[1], row3[0]])
drawFrame(rightCol, row3)
drawLeftAxis(histY, rightCol[0], histYTicks)
drawBottomAxis(histX, row3[1], histXTicks, minus)
title('U and V Wind Components', rightCol, row3[0])
svg.append('text').attr('x', (rightCol[0] + rightCol[1]) / 2).attr('y', 1159)
  .attr('text-anchor', 'middle').attr('font-size', FONT_LABEL)
  .text('Wind speed (m s').call(addSup)
yLabel('Frequency', 827, (row3[0] + row3[1]) / 2)

frame(1442.7, 814.3, 117, 34)
const histKey = (y, color) => svg.append('rect').attr('x', 1446.7).attr('y', y)
  .attr('width', 22).attr('height', 7.8)
  .attr('fill', color).attr('fill-opacity', 0.65)
  .attr('stroke', '#000').attr('stroke-opacity', 0.7).attr('stroke-width', 1.1)
histKey(819.3, '#1f77b4')
histKey(834.6, '#ff7f0e')
legendText(1477.3, 824.5, 'U (zonal)')
legendText(1477.3, 839.5, 'V (meridional)')
</script>
</body>
</html>
